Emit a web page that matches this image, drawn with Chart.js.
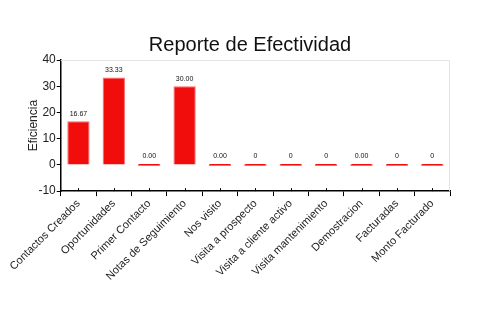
<!DOCTYPE html>
<html>
<head>
<meta charset="utf-8">
<script src="https://cdn.jsdelivr.net/npm/chart.js@4"></script>
<style>
    html, body { margin: 0; padding: 0; background: #fff; }
    #wrap { width: 500px; height: 330px; }
</style>
</head>
<body>
<div id="wrap"><canvas id="chart"></canvas></div>
<script>
const categories = ['Contactos Creados', 'Oportunidades', 'Primer Contacto', 'Notas de Seguimiento',
    'Nos visito', 'Visita a prospecto', 'Visita a cliente activo', 'Visita mantenimiento',
    'Demostracion', 'Facturadas', 'Monto Facturado'];
const efficiency = [16.67, 33.33, 0, 30, 0, 0, 0, 0, 0, 0, 0];
const labelDecimals = [2, 2, 2, 2, 2, 0, 0, 0, 2, 0, 0];
const yTicks = { min: -10, max: 40, step: 5 };

const FONT = "'Liberation Sans', Arial, sans-serif";

// value text above each bar plus the light frame on top/right of the plot
const barValues = {
    id: 'barValues',
    afterLayout(chart) {
        // center the heading on the whole canvas, not on the padded box
        const t = chart.titleBlock;
        if (t) {
            t.left = 0;
            t.right = chart.width;
            t.width = chart.width;
        }
    },
    afterDatasetsDraw(chart) {
        const ctx = chart.ctx;
        const meta = chart.getDatasetMeta(0);
        ctx.save();
        ctx.font = '7px ' + FONT;
        ctx.fillStyle = '#111';
        ctx.textAlign = 'center';
        ctx.textBaseline = 'bottom';
        meta.data.forEach((bar, i) => {
            const top = Math.min(bar.y, bar.base);
            ctx.fillText(efficiency[i].toFixed(labelDecimals[i]), bar.x, top - 4);
        });
        ctx.restore();
    },
    beforeDatasetsDraw(chart) {
        const { ctx, chartArea: a } = chart;
        ctx.save();
        ctx.strokeStyle = '#e4e4e4';
        ctx.lineWidth = 1;
        ctx.beginPath();
        ctx.moveTo(a.left, a.top + 0.5);
        ctx.lineTo(a.right - 0.5, a.top + 0.5);
        ctx.lineTo(a.right - 0.5, a.bottom);
        ctx.stroke();
        // short inner part of the category ticks
        ctx.strokeStyle = '#000';
        chart.scales.x.ticks.forEach((t, i) => {
            const x = Math.round(chart.scales.x.getPixelForTick(i)) + 0.5;
            ctx.beginPath();
            ctx.moveTo(x, a.bottom);
            ctx.lineTo(x, a.bottom - 3);
            ctx.stroke();
        });
        ctx.restore();
    }
};

new Chart(document.getElementById('chart'), {
    type: 'bar',
    data: {
        labels: categories,
        datasets: [{
            data: efficiency,
            backgroundColor: '#f20d0d',
            borderColor: '#ff6a6a',
            borderWidth: 1,
            minBarLength: 2,
            barPercentage: 0.63,
            categoryPercentage: 1
        }]
    },
    plugins: [barValues],
    options: {
        responsive: true,
        maintainAspectRatio: false,
        animation: false,
        layout: { padding: { left: 26, right: 50, top: 33, bottom: 46 } },
        plugins: {
            legend: { display: false },
            tooltip: { enabled: false },
            title: {
                display: true,
                text: 'Reporte de Efectividad',
                color: '#111',
                font: { family: FONT, size: 20, weight: 'normal' },
                padding: { top: 0, bottom: 3 }
            }
        },
        scales: {
            x: {
                grid: { drawOnChartArea: false, tickLength: 5, tickColor: '#000' },
                border: { color: '#000', width: 1.5 },
                ticks: {
                    color: '#222',
                    font: { family: FONT, size: 11 },
                    maxRotation: 45,
                    minRotation: 45,
                    autoSkip: false,
                    padding: 1
                }
            },
            y: {
                min: yTicks.min,
                max: yTicks.max,
                title: {
                    display: true,
                    text: 'Eficiencia',
                    color: '#222',
                    font: { family: FONT, size: 12 },
                    padding: { top: 0, bottom: -3 }
                },
                grid: {
                    color: c => 'transparent',
                    tickLength: 4,
                    tickColor: c => (c.tick && c.tick.value % 10 !== 0) ? '#d00' : '#000'
                },
                border: { color: '#000', width: 1.5 },
                ticks: {
                    stepSize: yTicks.step,
                    color: '#222',
                    font: { family: FONT, size: 12 },
                    padding: 1,
                    callback: v => (v % 10 === 0 ? v : '')
                }
            }
        }
    }
});
</script>
</body>
</html>
